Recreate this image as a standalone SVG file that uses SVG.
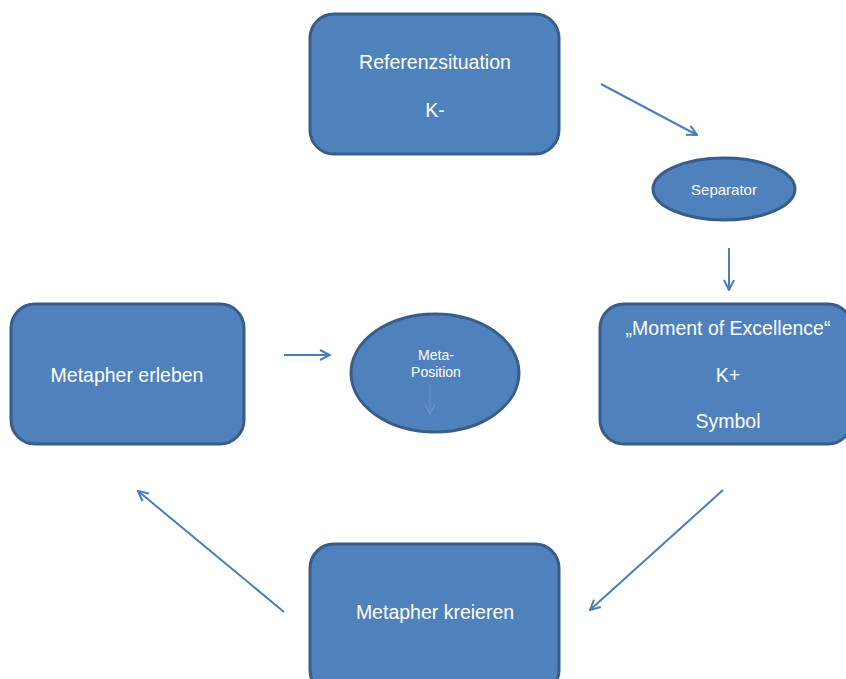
<svg xmlns="http://www.w3.org/2000/svg" width="846" height="679" viewBox="0 0 846 679">
<defs>
<style>
.box{fill:#4F81BD;stroke:#385D8A;stroke-width:3}
.t{fill:#FFFFFF;font-family:"Liberation Sans",Arial,sans-serif;font-size:19.5px;text-anchor:middle}
.ts{fill:#FFFFFF;font-family:"Liberation Sans",Arial,sans-serif;font-size:15px;text-anchor:middle}
.tm{fill:#FFFFFF;font-family:"Liberation Sans",Arial,sans-serif;font-size:14px;text-anchor:middle}
.c{stroke:#4A7EBB;stroke-width:2;fill:none}
</style>
<marker id="ah" viewBox="0 0 12 12" refX="11" refY="6" markerWidth="12" markerHeight="12" markerUnits="userSpaceOnUse" orient="auto">
<path d="M1,1 L11,6 L1,11" fill="none" stroke="#4A7EBB" stroke-width="2"/>
</marker>
<marker id="ahf" viewBox="0 0 12 12" refX="11" refY="6" markerWidth="12" markerHeight="12" markerUnits="userSpaceOnUse" orient="auto">
<path d="M1,1 L11,6 L1,11" fill="none" stroke="#6A94C8" stroke-width="1.3"/>
</marker>
</defs>
<rect width="846" height="679" fill="#FFFFFF"/>
<g id="referenzsituation">
<rect class="box" x="310" y="14" width="249" height="140" rx="24"/>
<text class="t" x="435" y="69">Referenzsituation</text>
<text class="t" x="435" y="117">K-</text>
</g>
<g id="separator">
<ellipse class="box" cx="724" cy="189" rx="71" ry="31"/>
<text class="ts" x="724" y="195">Separator</text>
</g>
<g id="moment">
<rect class="box" x="600" y="304" width="252" height="140" rx="24"/>
<text class="t" x="728" y="335">„Moment of Excellence“</text>
<text class="t" x="728" y="382">K+</text>
<text class="t" x="728" y="428">Symbol</text>
</g>
<g id="erleben">
<rect class="box" x="11" y="304" width="233" height="140" rx="24"/>
<text class="t" x="127" y="382">Metapher erleben</text>
</g>
<g id="metaposition">
<ellipse class="box" cx="435" cy="373" rx="84" ry="59"/>
<text class="tm" x="436" y="360">Meta-</text>
<text class="tm" x="436" y="377">Position</text>
<line x1="430" y1="384" x2="430" y2="414" stroke="#6A94C8" stroke-width="1.1" marker-end="url(#ahf)"/>
</g>
<g id="kreieren">
<rect class="box" x="310" y="544" width="249" height="150" rx="24"/>
<text class="t" x="435" y="619">Metapher kreieren</text>
</g>
<g id="connectors">
<line class="c" x1="601" y1="84" x2="697" y2="135" marker-end="url(#ah)"/>
<line class="c" x1="729" y1="248" x2="729" y2="290" marker-end="url(#ah)"/>
<line class="c" x1="723" y1="490" x2="590" y2="610" marker-end="url(#ah)"/>
<line class="c" x1="284" y1="612" x2="138" y2="491" marker-end="url(#ah)"/>
<line class="c" x1="284" y1="355" x2="330" y2="355" marker-end="url(#ah)"/>
</g>
</svg>
